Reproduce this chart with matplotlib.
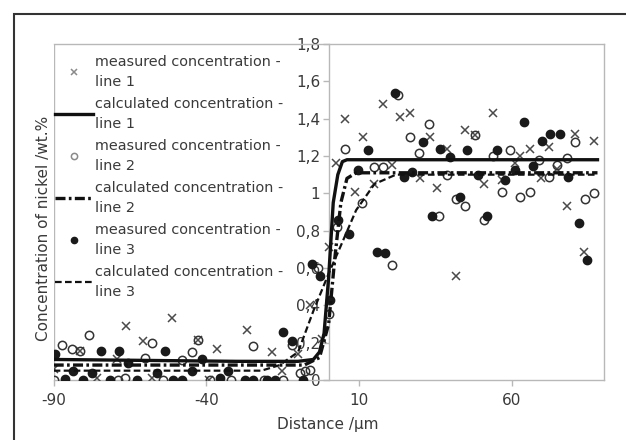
import matplotlib
matplotlib.use("Agg")
import matplotlib.pyplot as plt
from matplotlib.patches import Rectangle
from matplotlib.ticker import FuncFormatter

plt.rcParams['font.family'] = ['DejaVu Sans']
plt.rcParams['axes.unicode_minus'] = False

# ---- data ----
x_meas1 = [-90, -81.4, -75.9, -69.4, -66.3, -60.7, -57.9, -51.4, -42.7, -39.2, -36.6, -26.8,
           -18.4, -15.3, -9.9, -6.1, -2.2, 0.0, 2.4, 5.4, 8.7, 11.4, 14.7, 17.7, 20.7, 23.4,
           26.7, 29.9, 33.2, 35.4, 38.9, 41.7, 44.7, 47.8, 50.7, 53.9, 56.7, 61.1, 62.7, 66.0,
           69.4, 72.0, 74.7, 78.0, 80.7, 83.6, 86.7]
y_meas1 = [0.06, 0.158, 0.01, 0.11, 0.29, 0.21, 0.01, 0.33, 0.215, 0.0, 0.167, 0.27,
           0.149, 0.05, 0.14, 0.40, 0.22, 0.71, 1.16, 1.40, 1.007, 1.30, 1.05, 1.48, 1.15, 1.41,
           1.43, 1.08, 1.30, 1.03, 1.24, 0.555, 1.34, 1.31, 1.05, 1.43, 1.07, 1.16, 1.20, 1.24,
           1.08, 1.25, 1.13, 0.93, 1.32, 0.685, 1.28]

x_meas2 = [-90, -87.4, -84.1, -81.4, -78.3, -69.1, -66.7, -60.1, -57.9, -54.2, -48.1, -44.7,
           -42.7, -38.8, -32.0, -24.6, -21.0, -14.8, -12.1, -9.4, -7.7, -6.0, -3.4, 0.0, 2.7,
           5.4, 10.9, 14.7, 17.9, 20.7, 22.8, 26.7, 29.7, 32.7, 36.0, 38.7, 41.7, 44.7, 47.8,
           50.7, 53.9, 56.7, 59.4, 62.7, 66.0, 68.7, 72.0, 74.7, 78.0, 80.7, 84.0, 86.7]
y_meas2 = [0.0, 0.19, 0.167, 0.158, 0.24, 0.0, 0.01, 0.12, 0.20, 0.0, 0.105, 0.15,
           0.215, 0.0, 0.0, 0.18, 0.0, 0.0, 0.19, 0.04, 0.05, 0.055, 0.60, 0.355, 0.82,
           1.24, 0.95, 1.14, 1.14, 0.614, 1.525, 1.30, 1.216, 1.37, 0.88, 1.10, 0.97, 0.93, 1.31,
           0.855, 1.20, 1.007, 1.23, 0.98, 1.007, 1.177, 1.09, 1.15, 1.19, 1.275, 0.97, 1.0]

x_meas3 = [-89.6, -86.3, -83.6, -80.3, -77.6, -74.6, -71.6, -68.5, -65.6, -62.8, -56.3, -53.6,
           -50.8, -48.1, -44.8, -41.5, -35.5, -32.8, -27.4, -24.6, -20.3, -17.5, -14.8, -12.1,
           -8.5, -5.5, -2.8, 0.5, 3.2, 6.5, 9.7, 13.0, 15.8, 18.5, 21.8, 24.7, 27.2, 31.0,
           33.8, 36.5, 39.8, 43.0, 45.2, 49.0, 51.8, 55.1, 57.8, 61.0, 63.8, 67.0, 69.8, 72.5,
           75.8, 78.5, 81.8, 84.5]
y_meas3 = [0.14, 0.005, 0.05, 0.0, 0.04, 0.158, 0.0, 0.153, 0.09, 0.0, 0.04, 0.158,
           0.0, 0.0, 0.05, 0.11, 0.01, 0.05, 0.0, 0.0, 0.0, 0.0, 0.256, 0.21,
           0.0, 0.62, 0.555, 0.43, 0.855, 0.78, 1.127, 1.23, 0.685, 0.68, 1.535, 1.087, 1.114, 1.275,
           0.88, 1.24, 1.195, 0.98, 1.23, 1.10, 0.88, 1.23, 1.07, 1.127, 1.38, 1.145, 1.28, 1.32,
           1.32, 1.087, 0.84, 0.645]

x_calc1 = [-90, -30, -10, -5, -3, -1.5, 0, 1.5, 3, 4.5, 6, 88]
y_calc1 = [0.11, 0.10, 0.10, 0.11, 0.15, 0.25, 0.55, 0.95, 1.10, 1.17, 1.18, 1.18]

x_calc2 = [-90, -8, -3, 0, 2, 4, 6, 9, 88]
y_calc2 = [0.08, 0.08, 0.12, 0.30, 0.65, 0.95, 1.08, 1.11, 1.11]

x_calc3 = [-90, -22, -16, -10, -5, 0, 4, 9, 15, 22, 88]
y_calc3 = [0.05, 0.05, 0.08, 0.15, 0.37, 0.57, 0.72, 0.91, 1.05, 1.10, 1.10]

labels = ['measured concentration -\nline 1', 'calculated concentration -\nline 1',
          'measured concentration -\nline 2', 'calculated concentration -\nline 2',
          'measured concentration -\nline 3', 'calculated concentration -\nline 3']

x_ticks = [-90, -40, 10, 60]
y_ticks = [0, 0.2, 0.4, 0.6, 0.8, 1.0, 1.2, 1.4, 1.6, 1.8]

# ---- figure ----
W, H = 626, 440
fig = plt.figure(figsize=(W / 100, H / 100), dpi=100)
ax = fig.add_axes([53.7 / W, 1 - 380 / H, (603.6 - 53.7) / W, (380 - 44) / H])

txt = '#3a3a3a'
axc = '#b8b8b8'

h_m1, = ax.plot(x_meas1, y_meas1, linestyle='none', marker='x', ms=6, mew=1.1,
                color='#4a4a4a', zorder=3)
h_c1, = ax.plot(x_calc1, y_calc1, color='#111111', lw=2.4, zorder=4)
h_m2, = ax.plot(x_meas2, y_meas2, linestyle='none', marker='o', ms=6, mew=1.1,
                mfc='none', mec='#333333', zorder=3)
h_c2, = ax.plot(x_calc2, y_calc2, color='#111111', lw=2.4, dashes=(3, 1, 0.8, 1), zorder=4)
h_m3, = ax.plot(x_meas3, y_meas3, linestyle='none', marker='o', ms=6,
                mfc='#1a1a1a', mec='#1a1a1a', zorder=3)
h_c3, = ax.plot(x_calc3, y_calc3, color='#111111', lw=1.6, dashes=(3, 1.5), zorder=4)

ax.set_xlim(-90, 90)
ax.set_ylim(0, 1.8)
ax.set_xticks(x_ticks)
ax.set_yticks(y_ticks)
ax.yaxis.set_major_formatter(FuncFormatter(lambda v, p: ('%g' % round(v, 1)).replace('.', ',')))

for s in ['top', 'right', 'bottom']:
    ax.spines[s].set_color(axc)
    ax.spines[s].set_linewidth(1.0)
ax.spines['left'].set_position(('data', 0))
ax.spines['left'].set_color(axc)
ax.spines['left'].set_linewidth(1.0)
# left border of plot area
ax.axvline(-90, color=axc, lw=1.0, zorder=0.5)

ax.tick_params(axis='both', colors=axc, labelcolor=txt, labelsize=11, length=4, width=1,
               direction='out')
ax.tick_params(axis='y', pad=2)
ax.tick_params(axis='x', pad=5)

fig.text(328 / W, 1 - 424 / H, 'Distance /\u00b5m', ha='center', va='center',
         fontsize=11, color=txt)
fig.text(44 / W, 1 - 228 / H, 'Concentration of nickel /wt.%', ha='center', va='center',
         rotation=90, fontsize=11, color=txt)

leg = ax.legend([h_m1, h_c1, h_m2, h_c2, h_m3, h_c3], labels, loc='upper left',
                bbox_to_anchor=(55 / W, 1 - 55 / H), bbox_transform=fig.transFigure,
                frameon=False, fontsize=10.4, handlelength=2.6, handletextpad=0.15,
                labelspacing=0.55, borderpad=0, borderaxespad=0, labelcolor=txt)
for t in leg.get_texts():
    t.set_linespacing(1.55)
for hl in leg.legend_handles:
    m = hl.get_marker()
    if m == 'x':
        hl.set_color('#8a8a8a')
        hl.set_markersize(5)
    elif m == 'o':
        hl.set_markersize(4.5)
        if hl.get_markerfacecolor() == 'none':
            hl.set_markeredgecolor('#8a8a8a')

# outer frame of the picture
fig.patches.append(Rectangle((14 / W, -0.2), 1.2, 1 - 14 / H + 0.2,
                             transform=fig.transFigure, fill=False, ec='#333333', lw=1.5))

fig.savefig('out.png', dpi=100)
